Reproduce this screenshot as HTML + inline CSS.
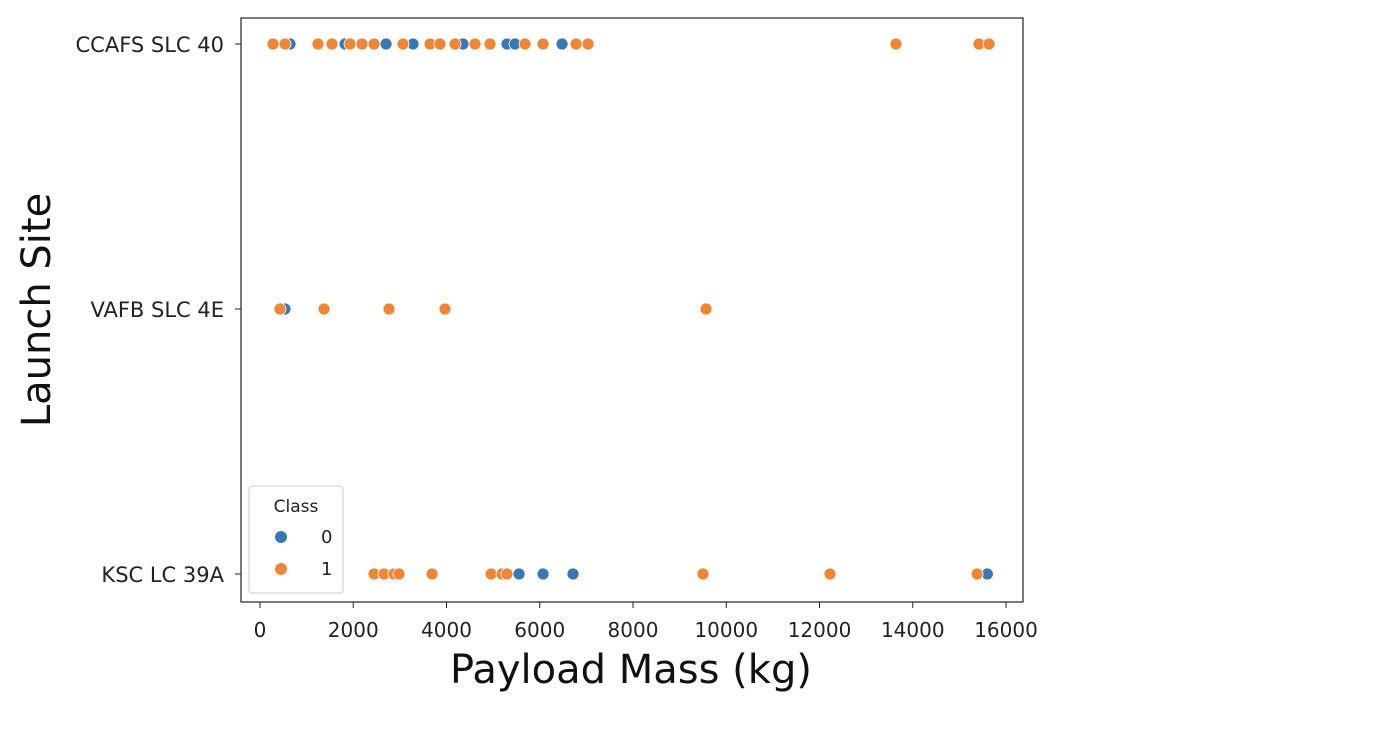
<!DOCTYPE html>
<html><head><meta charset="utf-8"><style>body{margin:0;background:#fff}svg{display:block;font-family:"DejaVu Sans","Liberation Sans",sans-serif}</style></head>
<body>
<svg id="chart" width="1384" height="732" xmlns="http://www.w3.org/2000/svg">
<rect x="0" y="0" width="1384" height="732" fill="#fff"/>
<g id="marks"></g>
<g id="axes"></g>
<rect x="241" y="18" width="782" height="584" fill="none" stroke="#222" stroke-width="1.2"/>
<text x="631" y="683" text-anchor="middle" font-size="40" fill="#111">Payload Mass (kg)</text>
<text transform="translate(50,310) rotate(-90)" text-anchor="middle" font-size="40" fill="#111">Launch Site</text>
<g>
<rect x="249" y="486" width="94" height="107" rx="3" fill="#fff" fill-opacity="0.85" stroke="#ccc"/>
<text x="296" y="512" text-anchor="middle" font-size="17" fill="#222">Class</text>
<circle cx="281" cy="537" r="6" fill="#3a78b5"/>
<text x="321" y="543" font-size="18" fill="#222">0</text>
<circle cx="281" cy="569" r="6" fill="#ef8636"/>
<text x="321" y="575" font-size="18" fill="#222">1</text>
</g>
</svg>
<script>
const categories = ["CCAFS SLC 40","VAFB SLC 4E","KSC LC 39A"];
const xTicks = [0,2000,4000,6000,8000,10000,12000,14000,16000];
const ccafsClass1 = [279,536,1244,1544,1931,2188,2446,3067,3647,3861,4183,4612,4934,5684,6071,6779,7036,13640,15420,15635];
const ccafsClass0 = [644,1823,2703,3282,4354,5298,5470,6478];
const vafbClass1 = [429,1373,2767,3968,9566];
const vafbClass0 = [536];
const kscClass1 = [2446,2660,2874,2982,3690,4955,5191,5298,9502,12226,15380];
const kscClass0 = [5556,6071,6714,15600];

const NS="http://www.w3.org/2000/svg";
function xs(v){return 260+v*(1006-260)/16000;}
function ys(i){return 44+i*265;}
const axes=document.getElementById('axes');
xTicks.forEach(t=>{
  const l=document.createElementNS(NS,'line');
  l.setAttribute('x1',xs(t));l.setAttribute('x2',xs(t));l.setAttribute('y1',602);l.setAttribute('y2',608);l.setAttribute('stroke','#222');
  
  
  axes.appendChild(l);
  const tx=document.createElementNS(NS,'text');
  tx.setAttribute('x',xs(t));tx.setAttribute('y',637);tx.setAttribute('text-anchor','middle');tx.setAttribute('font-size','20');tx.setAttribute('fill','#222');
  tx.textContent=t;
  
  
  axes.appendChild(tx);
});
categories.forEach((c,i)=>{
  const l=document.createElementNS(NS,'line');
  l.setAttribute('x1',235);l.setAttribute('x2',241);l.setAttribute('y1',ys(i));l.setAttribute('y2',ys(i));l.setAttribute('stroke','#222');
  
  
  axes.appendChild(l);
  const tx=document.createElementNS(NS,'text');
  tx.setAttribute('x',224);tx.setAttribute('y',ys(i)+8);tx.setAttribute('text-anchor','end');tx.setAttribute('font-size','21');tx.setAttribute('fill','#222');
  tx.textContent=c;
  
  
  axes.appendChild(tx);
});
const marks=document.getElementById('marks');
function draw(arr,row,color){
  arr.forEach(v=>{
    const c=document.createElementNS(NS,'circle');
    c.setAttribute('cx',xs(v));c.setAttribute('cy',ys(row));c.setAttribute('r',6);
    c.setAttribute('fill',color);c.setAttribute('stroke','#fff');c.setAttribute('stroke-width','0.8');
    
    
    marks.appendChild(c);
  });
}
const B="#3a78b5",O="#ef8636";
draw(ccafsClass0,0,B);draw(ccafsClass1,0,O);
draw(vafbClass0,1,B);draw(vafbClass1,1,O);
draw(kscClass0,2,B);draw(kscClass1,2,O);
</script>
</body></html>
